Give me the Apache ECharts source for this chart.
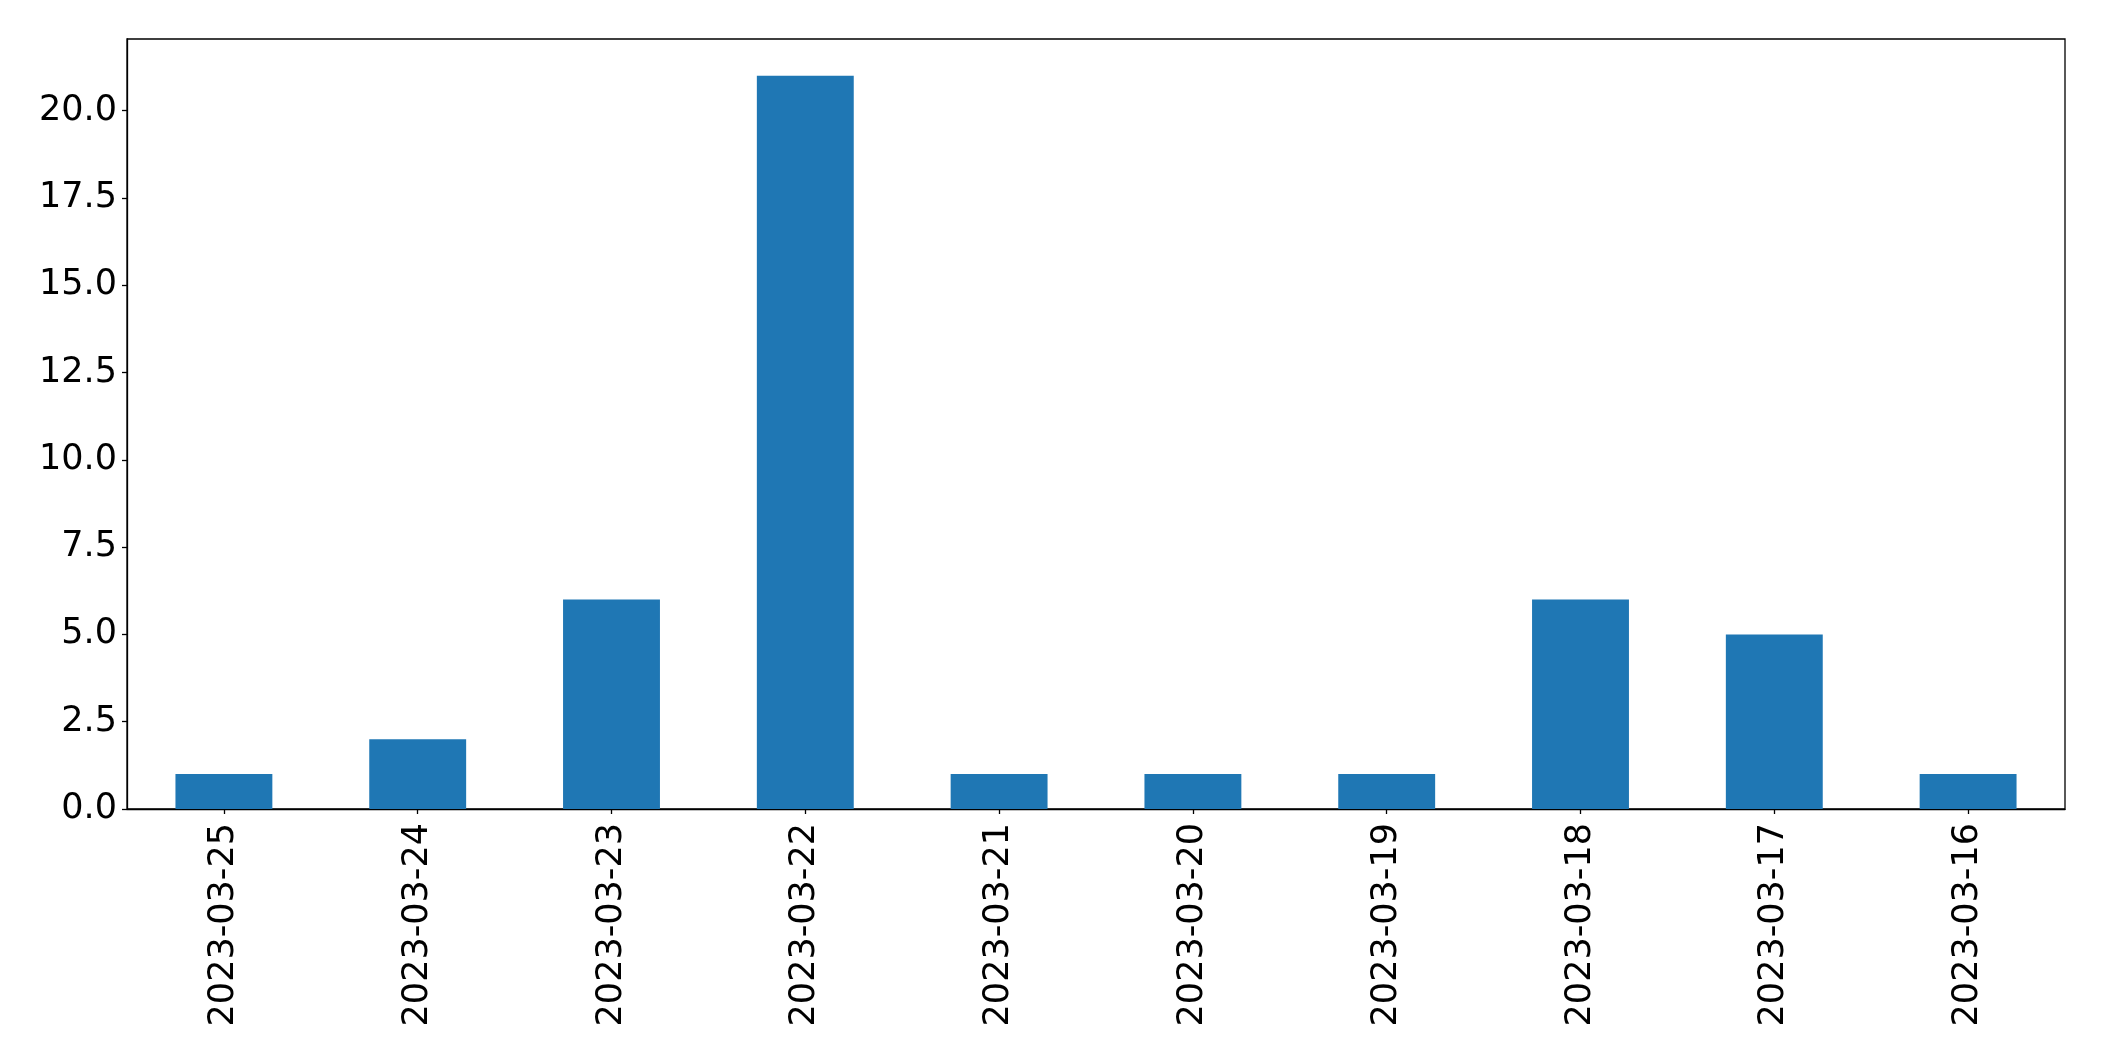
<!DOCTYPE html>
<html>
<head>
<meta charset="utf-8">
<script src="https://cdn.jsdelivr.net/npm/echarts@6/dist/echarts.min.js"></script>
<style>html,body{margin:0;padding:0;background:#fff}#c{width:2104px;height:1061px}</style>
</head>
<body>
<div id="c"></div>
<script>
const categories = ["2023-03-25","2023-03-24","2023-03-23","2023-03-22","2023-03-21","2023-03-20","2023-03-19","2023-03-18","2023-03-17","2023-03-16"];
const values = [1, 2, 6, 21, 1, 1, 1, 6, 5, 1];
const yTicks = [0, 2.5, 5, 7.5, 10, 12.5, 15, 17.5, 20];

const chart = echarts.init(document.getElementById('c'), null, {renderer: 'canvas'});
const font = 'DejaVu Sans';
chart.setOption({
  animation: false,
  grid: {left: 127, right: 39, top: 39, bottom: 252, show: true, borderColor: '#000', borderWidth: 1.3, backgroundColor: 'transparent'},
  xAxis: {
    type: 'category',
    data: categories,
    boundaryGap: true,
    axisLine: {show: true, lineStyle: {color: '#000', width: 1.3}},
    axisTick: {show: true, alignWithLabel: true, length: 5, lineStyle: {color: '#000', width: 1.3}},
    axisLabel: {rotate: 90, color: '#000', fontFamily: font, fontSize: 35, margin: 14, interval: 0},
    splitLine: {show: false}
  },
  yAxis: {
    type: 'value',
    min: 0,
    max: 22.05,
    interval: 2.5,
    axisLine: {show: true, lineStyle: {color: '#000', width: 1.3}},
    axisTick: {show: true, length: 5, lineStyle: {color: '#000', width: 1.3}, customValues: yTicks},
    axisLabel: {color: '#000', fontFamily: font, fontSize: 35, margin: 10, customValues: yTicks,
      formatter: v => v.toFixed(1)},
    splitLine: {show: false}
  },
  series: [{
    type: 'bar',
    data: values,
    barWidth: '50%',
    itemStyle: {color: '#1f77b4'}
  }]
});
</script>
</body>
</html>
